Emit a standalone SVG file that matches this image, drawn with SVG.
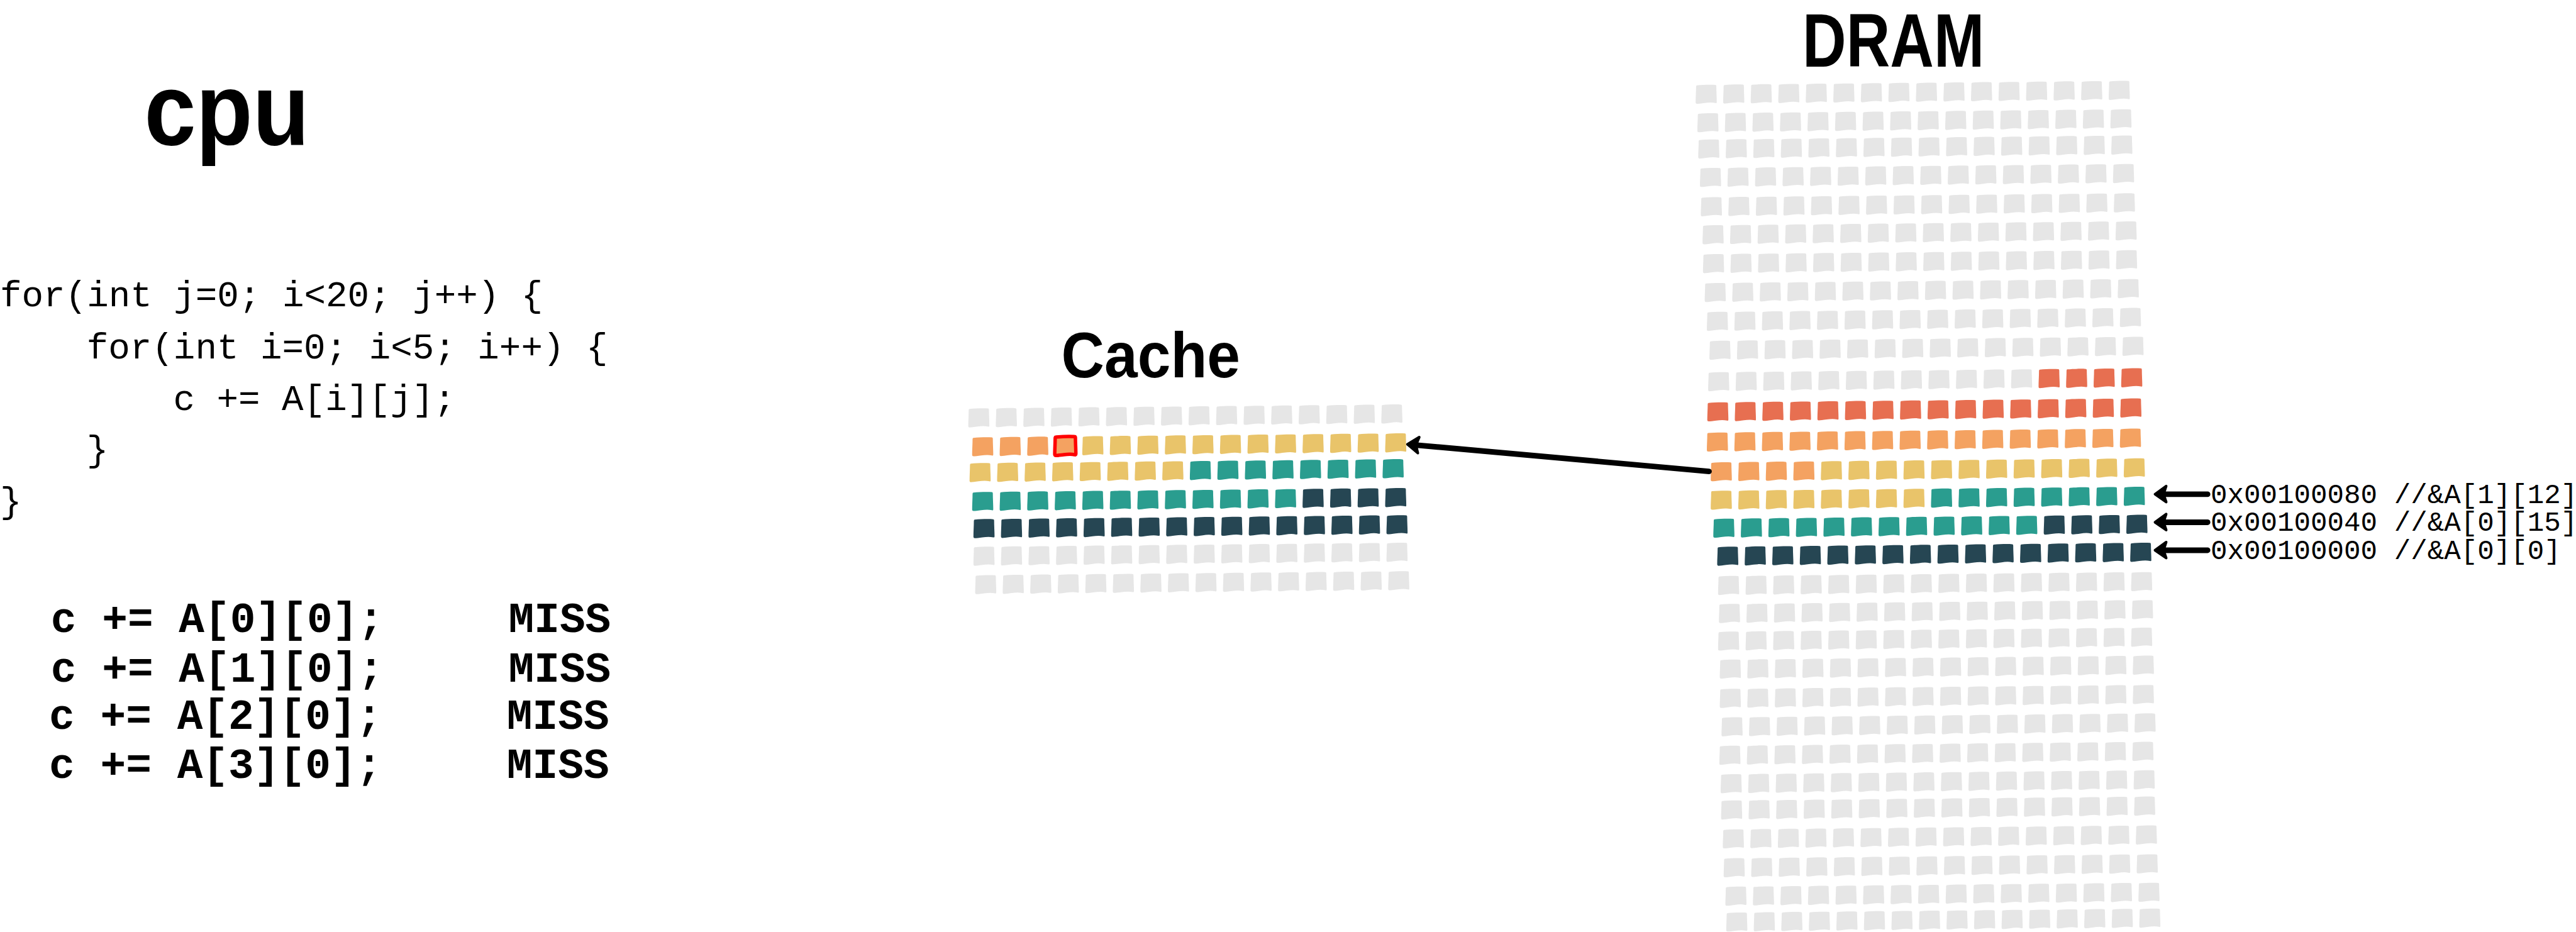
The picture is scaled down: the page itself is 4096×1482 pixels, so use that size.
<svg xmlns="http://www.w3.org/2000/svg" width="4096" height="1482" viewBox="0 0 4096 1482">
<style>
.code{font-family:"Liberation Mono","DejaVu Sans Mono",monospace;fill:#000}
.c1{font-size:84px}
.miss{font-size:99px;font-weight:bold}
.addr{font-size:64.5px}
.hand{font-family:"Liberation Sans",Arial,sans-serif;font-weight:bold;fill:#000}
.G{fill:#E6E6E6}.R{fill:#E76F51}.O{fill:#F4A261}.Y{fill:#E9C46A}.T{fill:#2A9D8F}.N{fill:#264653}
.conn{fill:none;stroke:#000;stroke-width:13;stroke-linecap:round;marker-end:url(#ah)}
</style>
<defs>
<path id="cell" d="M4,2 C16,1 34,0 47,1 Q49,1 49,4 C49,16 50,30 50,41 Q50,44 47,43 C38,41 30,42 22,43 C14,44 8,45 4,45 Q1,45 1,42 C1,30 2,16 2,5 Q2,2 4,2 Z"/>
<g id="r4"><use href="#cell"/><use href="#cell" x="63.9" y="-0.6"/><use href="#cell" x="127.8" y="-1.2"/><use href="#cell" x="191.7" y="-1.8"/></g>
<g id="r16"><use href="#r4"/><use href="#r4" x="255.6" y="-2.4"/><use href="#r4" x="511.2" y="-4.8"/><use href="#r4" x="766.8" y="-7.2"/></g>
<marker id="ah" markerUnits="userSpaceOnUse" viewBox="-40 -30 50 60" markerWidth="50" markerHeight="60" refX="-10" refY="0" orient="auto">
<path d="M0,0 L-26,-18 L-20,0 L-26,19 Z" fill="#000" stroke="#000" stroke-width="6" stroke-linejoin="round"/>
</marker>
</defs>
<rect width="4096" height="1482" fill="#fff"/>
<g transform="scale(0.68518)">

<g id="cpu">
<text class="hand" x="335" y="335" font-size="239" textLength="383" lengthAdjust="spacingAndGlyphs">cpu</text>
<text class="code c1" x="0" y="711">for(int j=0; i&lt;20; j++) {</text>
<text class="code c1" x="201" y="832">for(int i=0; i&lt;5; i++) {</text>
<text class="code c1" x="402" y="951">c += A[i][j];</text>
<text class="code c1" x="201" y="1070">}</text>
<text class="code c1" x="0" y="1190">}</text>
<text class="code miss" x="118" y="1467">c += A[0][0];</text><text class="code miss" x="1180" y="1467">MISS</text>
<text class="code miss" x="118" y="1582">c += A[1][0];</text><text class="code miss" x="1180" y="1582">MISS</text>
<text class="code miss" x="114" y="1691">c += A[2][0];</text><text class="code miss" x="1176" y="1691">MISS</text>
<text class="code miss" x="114" y="1805">c += A[3][0];</text><text class="code miss" x="1176" y="1805">MISS</text>
</g>

<g id="cache">
<text class="hand" x="2463" y="876" font-size="150" textLength="415" lengthAdjust="spacingAndGlyphs">Cache</text>
<use href="#r16" class="G" x="2246" y="947"/>
<g transform="translate(2255,1014)"><use href="#r4" class="O"/><use href="#r4" class="Y" x="255.6" y="-2.4"/><use href="#r4" class="Y" x="511.2" y="-4.8"/><use href="#r4" class="Y" x="766.8" y="-7.2"/></g>
<use href="#cell" x="2446.7" y="1012.2" fill="#F4A261" stroke="#FF0000" stroke-width="8" stroke-linejoin="round"/>
<g transform="translate(2249,1074)"><use href="#r4" class="Y"/><use href="#r4" class="Y" x="255.6" y="-2.4"/><use href="#r4" class="T" x="511.2" y="-4.8"/><use href="#r4" class="T" x="766.8" y="-7.2"/></g>
<g transform="translate(2255,1141)"><use href="#r4" class="T"/><use href="#r4" class="T" x="255.6" y="-2.4"/><use href="#r4" class="T" x="511.2" y="-4.8"/><use href="#r4" class="N" x="766.8" y="-7.2"/></g>
<use href="#r16" class="N" x="2258" y="1204"/>
<use href="#r16" class="G" x="2258" y="1268"/>
<use href="#r16" class="G" x="2262" y="1334"/>
</g>

<g id="dram">
<text class="hand" x="4183" y="155" font-size="175" textLength="422" lengthAdjust="spacingAndGlyphs">DRAM</text>
<use href="#r16" class="G" x="3934" y="196"/>
<use href="#r16" class="G" x="3938" y="262"/>
<use href="#r16" class="G" x="3940" y="323"/>
<use href="#r16" class="G" x="3944" y="389"/>
<use href="#r16" class="G" x="3946" y="457"/>
<use href="#r16" class="G" x="3950" y="522"/>
<use href="#r16" class="G" x="3951" y="589"/>
<use href="#r16" class="G" x="3955" y="656"/>
<use href="#r16" class="G" x="3960" y="723"/>
<use href="#r16" class="G" x="3966" y="790"/>
<g transform="translate(3963,863)"><use href="#r4" class="G"/><use href="#r4" class="G" x="255.6" y="-2.4"/><use href="#r4" class="G" x="511.2" y="-4.8"/><use href="#r4" class="R" x="766.8" y="-7.2"/></g>
<use href="#r16" class="R" x="3961" y="933"/>
<use href="#r16" class="O" x="3960" y="1003"/>
<g transform="translate(3969,1072)"><use href="#r4" class="O"/><use href="#r4" class="Y" x="255.6" y="-2.4"/><use href="#r4" class="Y" x="511.2" y="-4.8"/><use href="#r4" class="Y" x="766.8" y="-7.2"/></g>
<g transform="translate(3969,1138)"><use href="#r4" class="Y"/><use href="#r4" class="Y" x="255.6" y="-2.4"/><use href="#r4" class="T" x="511.2" y="-4.8"/><use href="#r4" class="T" x="766.8" y="-7.2"/></g>
<g transform="translate(3975,1203)"><use href="#r4" class="T"/><use href="#r4" class="T" x="255.6" y="-2.4"/><use href="#r4" class="T" x="511.2" y="-4.8"/><use href="#r4" class="N" x="766.8" y="-7.2"/></g>
<use href="#r16" class="N" x="3984" y="1268"/>
<use href="#r16" class="G" x="3986" y="1336"/>
<use href="#r16" class="G" x="3988" y="1401"/>
<use href="#r16" class="G" x="3986" y="1465"/>
<use href="#r16" class="G" x="3990" y="1530"/>
<use href="#r16" class="G" x="3990" y="1598"/>
<use href="#r16" class="G" x="3994" y="1664"/>
<use href="#r16" class="G" x="3989" y="1730"/>
<use href="#r16" class="G" x="3992" y="1796"/>
<use href="#r16" class="G" x="3993" y="1857"/>
<use href="#r16" class="G" x="3997" y="1924"/>
<use href="#r16" class="G" x="3999" y="1991"/>
<use href="#r16" class="G" x="4003" y="2057"/>
<use href="#r16" class="G" x="4005" y="2117"/>
</g>

<g id="addresses">
<text class="code addr" x="5130" y="1167">0x00100080 //&amp;A[1][12]</text>
<text class="code addr" x="5130" y="1232">0x00100040 //&amp;A[0][15]</text>
<text class="code addr" x="5130" y="1297">0x00100000 //&amp;A[0][0]</text>
</g>

<g id="connectors">
<path class="conn" d="M3966,1094 L3276,1032"/>
<path class="conn" d="M5123,1147 L5011,1147"/>
<path class="conn" d="M5123,1212 L5011,1212"/>
<path class="conn" d="M5123,1277 L5011,1277"/>
</g>
</g>
</svg>
